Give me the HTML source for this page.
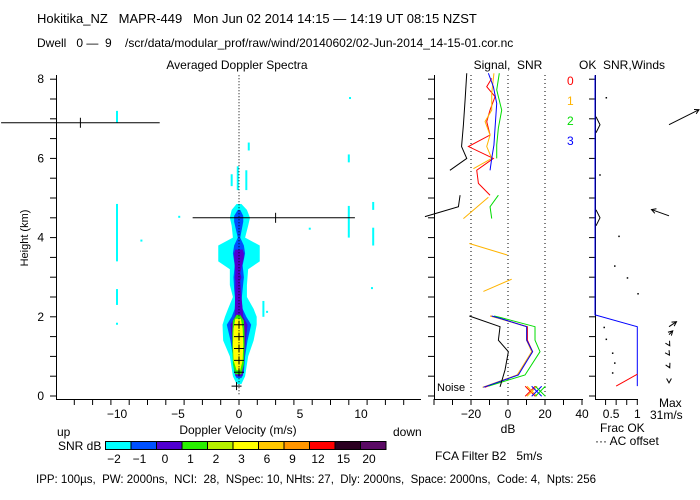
<!DOCTYPE html>
<html><head><meta charset="utf-8"><style>
body{margin:0;background:#fff;}
svg{display:block;font-family:"Liberation Sans",sans-serif;}
text{font-size:12px;white-space:pre;}
</style></head><body>
<svg id="c" width="700" height="500" viewBox="0 0 700 500">
<text x="37" y="23" style="font-size:13px">Hokitika_NZ   MAPR-449   Mon Jun 02 2014 14:15 — 14:19 UT 08:15 NZST</text>
<text x="37" y="47" style="font-size:12px">Dwell   0 —  9    /scr/data/modular_prof/raw/wind/20140602/02-Jun-2014_14-15-01.cor.nc</text>
<text x="237" y="69" text-anchor="middle">Averaged Doppler Spectra</text>
<text x="508" y="69" text-anchor="middle">Signal,  SNR</text>
<text x="622" y="69" text-anchor="middle">OK  SNR,Winds</text>
<text x="28" y="238" transform="rotate(-90 28 238)" text-anchor="middle" style="font-size:11px">Height (km)</text>
<text x="57" y="436">up</text>
<text x="238" y="434" text-anchor="middle">Doppler Velocity (m/s)</text>
<text x="393" y="436">down</text>
<text x="508" y="433" text-anchor="middle">dB</text>
<text x="600" y="432">Frac OK</text>
<text x="595" y="445">··· AC offset</text>
<text x="659" y="407">Max</text>
<text x="650" y="419">31m/s</text>
<text x="58" y="450">SNR dB</text>
<text x="435" y="460">FCA Filter B2   5m/s</text>
<text x="437" y="391" style="font-size:11px">Noise</text>
<text x="36" y="483" style="font-size:11.5px">IPP: 100µs,  PW: 2000ns,  NCI:  28,  NSpec: 10, NHts: 27,  Dly: 2000ns,  Space: 2000ns,  Code: 4,  Npts: 256</text>
</svg>
<script>
const svg=document.getElementById('c');
const NS='http://www.w3.org/2000/svg';
// ---- data ----
const cbLabels=['-2','-1','0','1','2','3','6','9','12','15','20'];
const cbColors=['#00ffff','#0050ff','#5000d0','#28f000','#b4f000','#ffff00','#ffc800','#ff9600','#ff0000','#2a0020','#5a0a64'];
const cyanH=[0.3,0.5,1.0,1.4,1.8,2.0,2.2,2.5,2.8,3.2,3.4,3.8,4.0,4.3,4.5,4.7,4.85];
const cyanL=[-0.2,-0.5,-0.75,-1.3,-1.35,-1.15,-0.9,-0.5,-0.75,-0.75,-1.7,-1.7,-0.5,-0.6,-0.75,-0.6,-0.2];
const cyanR=[0.2,0.5,0.75,1.2,1.45,1.45,1.2,0.65,0.65,0.75,1.7,1.7,0.5,0.75,0.9,0.65,0.2];
const blueH=[0.45,0.6,1.0,1.4,1.8,2.0,2.2,2.4,2.7,3.0,3.3,3.6,3.8,4.0,4.4,4.55,4.7];
const blueL=[-0.2,-0.4,-0.5,-0.7,-1.0,-0.6,-0.35,-0.3,-0.4,-0.45,-0.35,-0.5,-0.4,-0.1,-0.4,-0.4,-0.1];
const blueR=[0.2,0.4,0.5,0.7,1.0,0.6,0.3,0.2,0.3,0.4,0.3,0.5,0.4,0.1,0.35,0.35,0.1];
const purpH=[0.5,1.0,1.5,1.8,2.0,2.9,3.0,3.1,3.5,3.6,3.7];
const purpL=[-0.3,-0.45,-0.6,-0.7,-0.35,-0.3,-0.35,-0.3,-0.4,-0.4,-0.3];
const purpR=[0.3,0.45,0.6,0.7,0.35,0.1,0.2,0.1,0.4,0.4,0.3];
const greenH=[0.55,0.8,1.2,1.6,1.9,2.05];
const greenL=[-0.3,-0.5,-0.55,-0.55,-0.5,-0.2];
const greenR=[0.2,0.4,0.45,0.45,0.4,0.1];
const yelH=[0.65,0.9,1.3,1.7,1.95];
const yelL=[-0.2,-0.45,-0.5,-0.45,-0.3];
const yelR=[0.1,0.3,0.35,0.3,0.15];
const speckV=[-10,-10,-10,-10,9,9,11,11,10.9,2,2.3,0.8,-8,0.6,-0.6,-0.1,9.1,5.8,-4.9];
const speckH0=[3.4,2.3,6.9,1.8,4.0,5.9,3.8,4.7,2.7,2.0,2.1,6.2,3.9,5.2,5.3,5.2,7.5,4.2,4.5];
const speckH1=[4.85,2.7,7.2,1.85,4.8,6.1,4.25,4.9,2.75,2.4,2.15,6.4,3.95,5.7,5.6,5.8,7.55,4.25,4.55];
const errH=[6.9,4.5];
const errV0=[-19.5,-3.8];
const errV1=[-6.5,9.5];
const errMid=[-13,3];
const crossH=[0.25,0.6,0.9,1.2,1.5,1.8];
const crossV=[-0.2,0,0,0,0,0];
const sigHeights={
 red:[8.02,7.81,7.56,7.22,6.93,6.59,6.30,6.0,5.7,5.37,5.07,null,0.22,0.53,1.12,1.41,1.75,1.96,2.02],
 orange:[8.15,7.64,7.22,6.93,6.59,6.30,6.0,5.74,null,5.02,4.48,null,3.85,3.56,null,2.95,2.64,null,0.22,0.53,1.12,1.41,1.75,1.96,2.02],
 green:[8.15,7.73,7.22,6.77,6.34,6.0,null,5.07,4.78,4.48,null,0.25,0.53,1.12,1.41,1.75,1.98,2.02],
 blue:[8.15,7.81,7.39,6.77,6.34,6.0,5.7,null,0.22,0.53,1.12,1.41,1.75,1.96,2.02],
 black:[8.15,7.47,6.85,6.3,6.0,5.7,null,5.07,4.78,4.53,null,2.02,1.75,1.41,1.12,0.66,0.23]
};
const sigValues={
 red:[-8.8,-11.5,-7.0,-9.7,-11.5,-9.7,-21.4,-7.9,-16.9,-16.0,-9.7,null,-12.5,5.0,13.3,10.5,10.5,-4.5,-9.5],
 orange:[-7.6,-8.8,-8.8,-12.4,-9.7,-11.5,-8.8,-18.7,null,-10.6,-24.1,null,-20.9,-0.4,null,2.0,-13.3,null,-13.8,5.0,12.8,10.0,10.0,-5.0,-9.7],
 green:[-4.7,-6.1,-3.4,-5.2,-6.1,-6.1,null,-5.2,-9.7,-8.8,null,-10.6,9.2,17.3,14.6,14.6,-3.8,-7.5],
 blue:[-10.6,-7.9,-6.1,-7.0,-7.6,-8.8,-9.7,null,-13.3,5.6,13.3,10.1,10.1,-4.3,-8.8],
 black:[-22.3,-23.2,-24.1,-25.1,-22.3,-31.4,null,-25.9,-26.8,-44.9,null,-20.9,-4.3,-5.2,0.2,-1.6,-4.3]
};
const sigColors={red:'#ff0000',orange:'#ffb400',green:'#00dc00',blue:'#0000ff',black:'#000000'};
const xMarkDb=[12,13,15.5,17.5];
const xMarkColors=['#ff0000','#ffb400','#0000ff','#00dc00'];
const okH=[8.1,2.05,1.75,0.25];
const okF=[0,0,1,1];
const okRedH=[0.25,0.55];
const okRedF=[0.5,1];
const windH=[6.85,4.55,1.75,1.55,1.3,1.05,0.75,0.35];
const windU=[12,-7,3,1.5,0.3,0.2,0.3,0];
const windV=[6,2.5,2,1.5,-0.5,-0.3,-0.6,-0.3];
const dotH=[7.55,5.6,4.05,3.3,3.0,2.6,1.75,1.45,1.1,0.85,0.6];
const dotF=[0.25,0.1,0.55,0.45,0.75,1.0,0.2,0.25,0.4,0.45,0.4];
const sigTicks=['-20','0','20','40'];
const velTicks=['-10','-5','0','5','10'];
const hTicks=['0','2','4','6','8'];
const legendLabels=['0','1','2','3'];
// ---- axes ----
const yH=h=>396-39.6*h;
const xV=v=>239+12.2*v;
const xS=d=>508+1.85*d;
const xF=f=>595+42.3*f;
function el(t,a,p){const e=document.createElementNS(NS,t);for(const k in a)e.setAttribute(k,a[k]);(p||svg).appendChild(e);return e;}
const g=el('g',{});

function band(H,L,R,col,name){
 let pts=H.map((h,i)=>xV(L[i])+','+yH(h));
 for(let i=H.length-1;i>=0;i--)pts.push(xV(R[i])+','+yH(H[i]));
 const p=el('polygon',{points:pts.join(' '),fill:col},g);
 
 
}
band(cyanH,cyanL,cyanR,cbColors[0],'contour-cyan');
band(blueH,blueL,blueR,cbColors[1],'contour-blue');
band(purpH,purpL,purpR,cbColors[2],'contour-purple');
band(greenH,greenL,greenR,cbColors[3],'contour-green');
band(yelH,yelL,yelR,cbColors[5],'contour-yellow');
speckV.forEach((v,i)=>{const r=el('rect',{x:xV(v)-1,y:yH(speckH1[i]),width:2,height:Math.max(2,yH(speckH0[i])-yH(speckH1[i])),fill:'#00ffff'},g);
 
 });
el('line',{x1:xV(0),y1:yH(8.1),x2:xV(0),y2:yH(0),stroke:'#000','stroke-dasharray':'1,2'},g);
errH.forEach((h,i)=>{const y=yH(h);
 const l=el('line',{x1:Math.max(0,xV(errV0[i])),y1:y,x2:xV(errV1[i]),y2:y,stroke:'#000'},g);
 
 
 el('line',{x1:xV(errMid[i]),y1:y-5,x2:xV(errMid[i]),y2:y+5,stroke:'#000'},g);});
crossH.forEach((h,i)=>{const x=xV(crossV[i]),y=yH(h);
 el('path',{d:`M${x-5} ${y}H${x+5}M${x} ${y-4}V${y+4}`,stroke:'#000',fill:'none'},g);});
el('path',{d:`M56.5 75V399.5H421`,stroke:'#000',fill:'none'},g);
el('line',{x1:434.5,y1:75,x2:434.5,y2:399.5,stroke:'#000'},g);
for(let h=0;h<=8.01;h+=0.5){const y=yH(h);
 el('line',{x1:50,y1:y,x2:56,y2:y,stroke:'#000'},g);
 el('line',{x1:428,y1:y,x2:434,y2:y,stroke:'#000'},g);
 el('line',{x1:589,y1:y,x2:595,y2:y,stroke:'#000'},g);}
hTicks.forEach(t=>{const tx=el('text',{x:44,y:yH(+t)+4,'text-anchor':'end'},g);tx.textContent=t;
 
 });
for(let v=-13.5;v<=14;v+=1.5){el('line',{x1:xV(v),y1:399,x2:xV(v),y2:405,stroke:'#000'},g);}
velTicks.forEach(t=>{const tx=el('text',{x:xV(+t),y:418,'text-anchor':'middle'},g);tx.textContent=t.replace('-','−');
 
 });
el('line',{x1:434,y1:399.5,x2:583,y2:399.5,stroke:'#000'},g);
for(let d=-40;d<=40;d+=10)el('line',{x1:xS(d),y1:399,x2:xS(d),y2:405,stroke:'#000'},g);
[-20,0,20].forEach(d=>el('line',{x1:xS(d),y1:75,x2:xS(d),y2:399,stroke:'#000','stroke-dasharray':'1,3'},g));
sigTicks.forEach(t=>{const tx=el('text',{x:xS(+t),y:418,'text-anchor':'middle'},g);tx.textContent=t.replace('-','−');
 
 });
Object.keys(sigHeights).forEach(k=>{const H=sigHeights[k],V=sigValues[k];let d='',pen=false;
 H.forEach((h,i)=>{if(h===null||V[i]===null){pen=false;return;}d+=(pen?'L':'M')+xS(V[i])+' '+yH(h);pen=true;});
 const p=el('path',{d,stroke:sigColors[k],fill:'none','stroke-width':1},g);
 
 });
xMarkDb.forEach((d,i)=>{const x=xS(d),y=yH(0.12);
 el('path',{d:`M${x-5} ${y-5}L${x+5} ${y+5}M${x-5} ${y+5}L${x+5} ${y-5}`,stroke:xMarkColors[i],fill:'none'},g);});
legendLabels.forEach((t,i)=>{const tx=el('text',{x:567,y:85+i*20,style:'fill:'+['#ff0000','#ffb400','#00dc00','#0000ff'][i]},g);tx.textContent=t;
 
 });
el('path',{d:'M595.5 75V399.5H638',stroke:'#000',fill:'none'},g);
[0.25,0.5,0.75,1].forEach(f=>el('line',{x1:xF(f),y1:399,x2:xF(f),y2:405,stroke:'#000'},g));
[['0.5',0.5],['1',1]].forEach(([t,f])=>{const tx=el('text',{x:xF(f)-(f==1?0:5),y:418,'text-anchor':'middle'},g);tx.textContent=t;
 
 });
let od='';okH.forEach((h,i)=>od+=(i?'L':'M')+xF(okF[i])+' '+yH(h));
const okp=el('path',{d:od,stroke:'#0000ff',fill:'none'},g);


el('path',{d:`M${xF(okRedF[0])} ${yH(okRedH[0])}L${xF(okRedF[1])} ${yH(okRedH[1])}`,stroke:'#ff0000',fill:'none'},g);
[6.85,4.5].forEach(h=>el('path',{d:`M596 ${yH(h)-8}L600 ${yH(h)}L596 ${yH(h)+8}`,stroke:'#000',fill:'none'},g));
dotH.forEach((h,i)=>el('rect',{x:xF(dotF[i]),y:yH(h),width:1.5,height:1.5,fill:'#000'},g));
windH.forEach((h,i)=>{const x0=669,y0=yH(h),x1=x0+windU[i]*2.5,y1=y0-windV[i]*2.5;
 const p=el('path',{d:`M${x0} ${y0}L${x1} ${y1}`,stroke:'#000',fill:'none'},g);
 
 
 const a=Math.atan2(y1-y0,x1-x0);
 el('path',{d:`M${x1-5*Math.cos(a-0.5)} ${y1-5*Math.sin(a-0.5)}L${x1} ${y1}L${x1-5*Math.cos(a+0.5)} ${y1-5*Math.sin(a+0.5)}`,stroke:'#000',fill:'none'},g);});
cbColors.forEach((c,i)=>{const r=el('rect',{x:105.5+i*25.5,y:441.5,width:25.5,height:8,fill:c,stroke:'#000'},g);
 
 
 const t=el('text',{x:114+i*25.5,y:463,'text-anchor':'middle'},g);t.textContent=cbLabels[i].replace('-','−');
 
 });
</script>
</body></html>
